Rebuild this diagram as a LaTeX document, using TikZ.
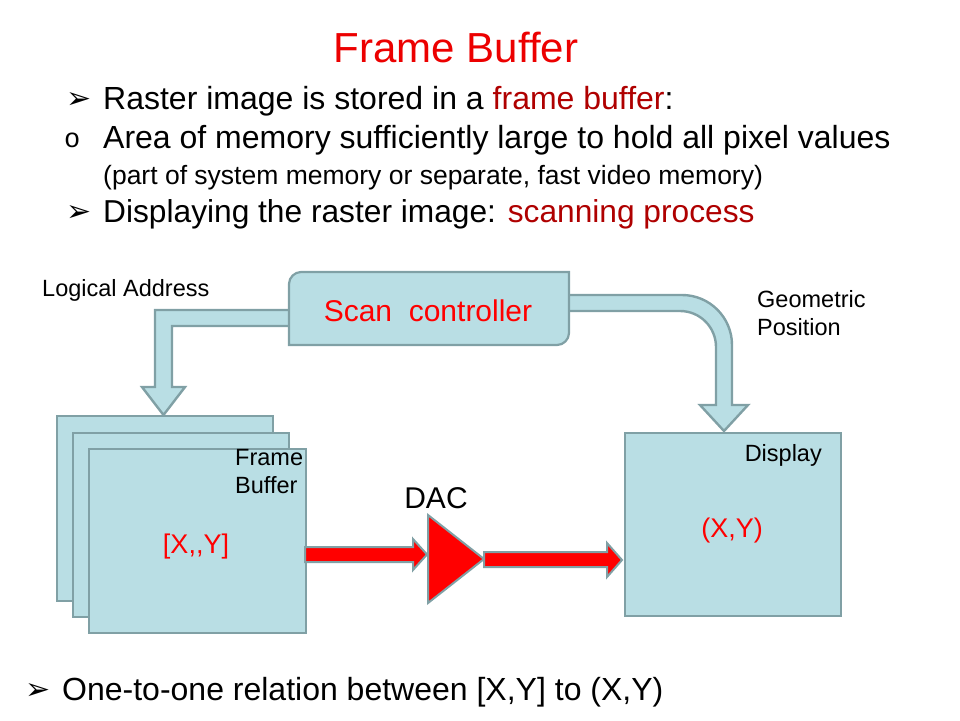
\documentclass[tikz,border=0pt]{standalone}
\usepackage{fontspec}
\setmainfont{Liberation Sans}
\newfontfamily\dejavu{DejaVu Sans}
\newfontfamily\monofam{Liberation Mono}
\definecolor{boxfill}{RGB}{185,222,228}
\definecolor{boxline}{RGB}{128,160,165}
\definecolor{titlered}{RGB}{236,0,0}
\definecolor{darkred}{RGB}{175,0,0}
\definecolor{brightred}{RGB}{255,0,0}
\begin{document}
\begin{tikzpicture}[x=1pt,y=-1pt,
  box/.style={draw=boxline, fill=boxfill, line width=2.2pt, inner sep=0pt},
  blockarrow/.style={draw=boxline, fill=boxfill, line width=2.4pt, line join=miter},
  redshape/.style={draw=boxline, fill=brightred, line width=2pt, line join=miter},
  txt/.style={inner sep=0pt, font=\fontsize{32}{36}\selectfont},
  subtxt/.style={inner sep=0pt, font=\fontsize{26.5}{30}\selectfont},
  lbl/.style={inner sep=0pt, font=\fontsize{23.5}{26}\selectfont},
  bigred/.style={inner sep=0pt, font=\fontsize{30}{34}\selectfont, text=brightred},
  bulletmark/.style={inner sep=0pt, font=\dejavu\bfseries\fontsize{30}{32}\selectfont}]
\useasboundingbox (0,0) rectangle (960,720);

% ---- title and bullet text ----
\node[anchor=base, inner sep=0pt, font=\fontsize{42}{46}\selectfont, text=titlered] (title) at (456,62) {Frame Buffer};

\node[bulletmark, anchor=base west] (m1) at (66,108) {➢};
\node[txt, anchor=base west] (b1) at (103,109) {Raster image is stored in a \textcolor{darkred}{frame buffer}:};
\node[inner sep=0pt, anchor=base west, font=\monofam\fontsize{27}{28}\selectfont] (m2) at (64,147) {o};
\node[txt, anchor=base west] (b2) at (103,148) {Area of memory sufficiently large to hold all pixel values};
\node[subtxt, anchor=base west] (b3) at (103,184) {(part of system memory or separate, fast video memory)};
\node[bulletmark, anchor=base west] (m4) at (66,221) {➢};
\node[inner sep=0pt, anchor=base west, font=\fontsize{31.7}{36}\selectfont] (b4) at (103,222) {Displaying the raster image: \textcolor{darkred}{scanning process}};

\node[bulletmark, anchor=base west] (m5) at (25,699) {➢};
\node[txt, anchor=base west] (b5) at (62,700) {One-to-one relation between [X,Y] to (X,Y)};

% ---- block arrows from scan controller ----
\draw[blockarrow] (300,310) -- (155,310) -- (155,387) -- (142,387) -- (163.5,415)
  -- (185,387) -- (172,387) -- (172,326) -- (300,326);
\draw[blockarrow] (560,295) -- (682,295) .. controls (709.6,295) and (732,317.4) .. (732,345)
  -- (732,405) -- (748,405) -- (724,431) -- (700,405) -- (716,405) -- (716,347)
  .. controls (716,327.1) and (699.9,311) .. (680,311) -- (560,311);

% ---- scan controller ----
\path[box] (289,345) -- (289,284) .. controls (289,277.4) and (294.6,272) .. (301,272)
  -- (569,272) -- (569,333) .. controls (569,339.6) and (563.4,345) .. (557,345) -- cycle;
\node[bigred, anchor=base] (sc) at (428,321) {Scan~ controller};

\node[lbl, anchor=base west] (la) at (42,296) {Logical Address};
\node[lbl, anchor=base west] (gp1) at (757,307) {Geometric};
\node[lbl, anchor=base west] (gp2) at (757,335) {Position};

% ---- frame buffer stack ----
\node[box, anchor=north west, minimum width=216pt, minimum height=185pt] (fbA) at (56,415) {};
\node[box, anchor=north west, minimum width=216pt, minimum height=184pt] (fbB) at (72,432) {};
\node[box, anchor=north west, minimum width=217pt, minimum height=184pt] (fbC) at (88,448) {};
\node[lbl, anchor=base west] (fl1) at (235,465) {Frame};
\node[lbl, anchor=base west] (fl2) at (235,493) {Buffer};
\node[inner sep=0pt, anchor=base, font=\fontsize{27}{30}\selectfont, text=brightred] (xy1) at (196,553) {[X,{},Y]};

% ---- display ----
\node[box, anchor=north west, minimum width=216pt, minimum height=183pt] (disp) at (624,432) {};
\node[lbl, anchor=base east] (dl) at (822,461) {Display};
\node[inner sep=0pt, anchor=base, font=\fontsize{27}{30}\selectfont, text=brightred] (xy2) at (732,537) {(X,Y)};

% ---- DAC and red arrows ----
\draw[redshape] (305,547) -- (413,547) -- (413,539) -- (427,554.5) -- (413,570) -- (413,562) -- (305,562) -- cycle;
\draw[redshape] (428,515) -- (484,559) -- (428,603) -- cycle;
\node[inner sep=0pt, anchor=base, font=\fontsize{30}{34}\selectfont] (dac) at (436,508) {DAC};
\draw[redshape] (484,552) -- (607,552) -- (607,543) -- (622,560) -- (607,577) -- (607,567) -- (484,567) -- cycle;
\end{tikzpicture}
\end{document}
